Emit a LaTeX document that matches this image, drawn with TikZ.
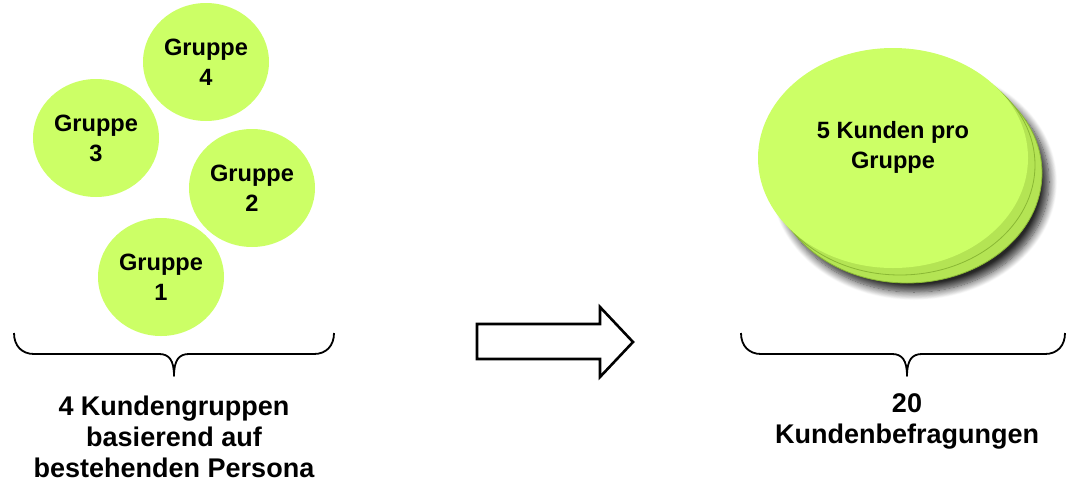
\documentclass[tikz,border=0pt]{standalone}
\usepackage{fontspec}
\setmainfont{Liberation Sans}
\usetikzlibrary{shapes.geometric,shadows.blur}
\definecolor{lime}{RGB}{204,255,102}
\definecolor{limeback}{RGB}{180,228,84}
\definecolor{limeedge}{RGB}{138,184,52}
\tikzset{
  gruppe/.style={ellipse, fill=lime, minimum width=126pt, minimum height=118pt,
    inner sep=0pt, align=center, font=\fontsize{23.6}{30}\selectfont\bfseries},
  stack/.style={ellipse, minimum width=270pt, minimum height=220pt, inner sep=0pt},
  caption/.style={align=center, font=\fontsize{27}{31}\selectfont\bfseries},
  curly/.style={line width=1.8pt, line join=round},
}
\begin{document}
\begin{tikzpicture}[x=1pt, y=-1pt]
    \useasboundingbox (0,0) rectangle (1067,482);

    % Four customer groups
    \node[gruppe] (g4) at (206,62) {Gruppe\\4};
    \node[gruppe] (g3) at (96,138) {Gruppe\\3};
    \node[gruppe] (g2) at (252,188) {Gruppe\\2};
    \node[gruppe] (g1) at (161,277) {Gruppe\\1};

    % Brace and caption left
    \coordinate (bl1) at (14,333);
    \coordinate (blm) at (174,376);
    \coordinate (bl2) at (334,333);
    \draw[curly] (bl1) .. controls (14,346) and (22,354) .. (34,354) -- (159,354)
      .. controls (169,354) and (174,360) .. (blm)
      .. controls (174,360) and (179,354) .. (189,354) -- (314,354)
      .. controls (326,354) and (334,346) .. (bl2);
    \node[caption] (capl) at (174,437) {4 Kundengruppen\\basierend auf\\bestehenden Persona};

    % Block arrow
    \draw[line width=2.6pt, line join=miter]
      (477,324) -- (600,324) -- (600,307) -- (633,342) -- (600,377) -- (600,359) -- (477,359) -- cycle;

    % Stack of interviews
    \node[stack, fill=limeback, draw=limeedge, line width=0.8pt,
      blur shadow={shadow xshift=7pt, shadow yshift=-9pt, shadow blur steps=12,
        shadow blur radius=8pt, shadow opacity=85}] (s2) at (907,173) {};
    \node[stack, fill=limeback, draw=limeedge, line width=0.8pt] (s1) at (900,165) {};
    \node[stack, fill=lime] (front) at (893,158) {};
    \node[align=center, font=\fontsize{23.6}{30}\selectfont\bfseries] (fronttext) at (893,147) {5 Kunden pro\\Gruppe};

    % Brace and caption right
    \coordinate (br1) at (741,333);
    \coordinate (brm) at (907,376);
    \coordinate (br2) at (1065,333);
    \draw[curly] (br1) .. controls (741,346) and (749,354) .. (761,354) -- (892,354)
      .. controls (902,354) and (907,360) .. (brm)
      .. controls (907,360) and (912,354) .. (922,354) -- (1045,354)
      .. controls (1057,354) and (1065,346) .. (br2);
    \node[caption] (capr) at (907,421) {20\\Kundenbefragungen};
\end{tikzpicture}
\end{document}
